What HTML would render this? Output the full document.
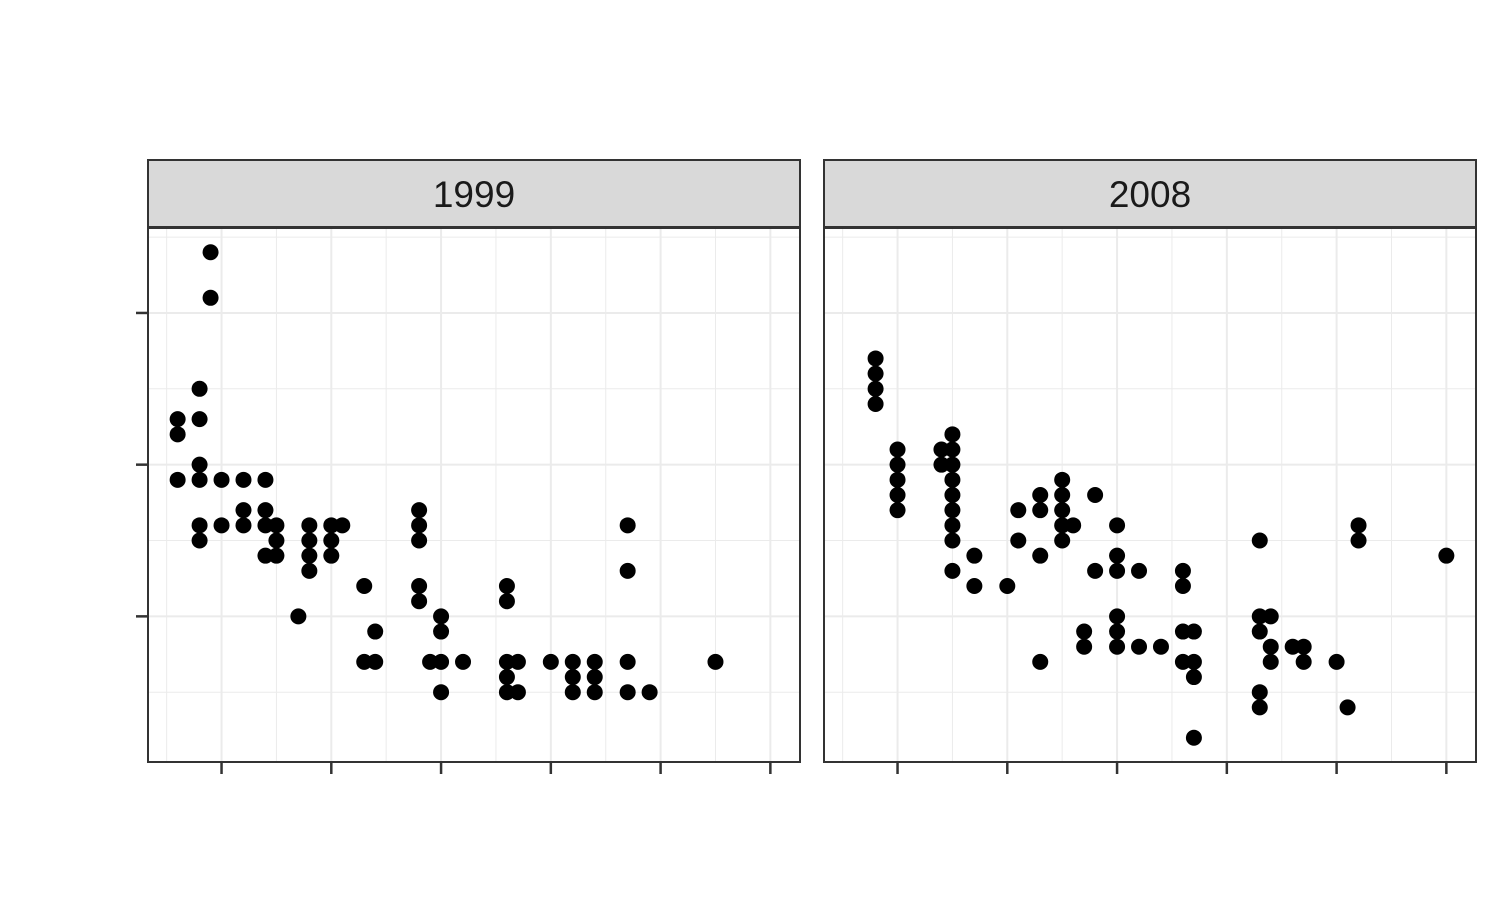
<!DOCTYPE html>
<html><head><meta charset="utf-8"><style>
body{margin:0;background:#fff;}
svg{display:block;font-family:"Liberation Sans",sans-serif;}
</style></head><body>
<svg id="chart" width="1500" height="900"></svg>
<script>
const facetLabels = ["1999", "2008"];
const displ1999 = [1.9,1.9,1.8,1.6,1.8,1.6,1.6,1.8,1.8,2.0,2.2,2.4,2.2,2.4,1.8,2.0,2.2,2.4,2.5,1.8,2.5,2.4,2.5,2.8,2.8,2.8,2.8,3.0,3.1,3.0,3.0,2.7,3.3,3.4,3.3,3.4,3.8,3.8,3.8,3.8,3.8,4.0,4.0,3.9,4.0,4.2,4.0,4.6,4.6,4.6,4.7,4.6,4.6,4.7,5.0,5.2,5.2,5.2,5.4,5.4,5.4,5.7,5.7,5.7,5.7,5.9,6.5];
const hwy1999 = [44,41,35,33,33,32,29,30,29,29,29,29,27,27,26,26,26,26,26,25,25,24,24,26,25,24,23,26,26,25,24,20,22,19,17,17,27,26,25,22,21,20,19,17,17,17,15,22,21,17,17,16,15,15,17,17,16,15,17,16,15,26,23,17,15,15,17];
const displ2008 = [1.8,1.8,1.8,1.8,2.0,2.0,2.0,2.0,2.0,2.4,2.5,2.5,2.4,2.5,2.5,2.5,2.5,2.5,2.5,2.5,2.7,2.7,3.0,3.1,3.1,3.3,3.3,3.3,3.3,3.5,3.5,3.5,3.5,3.5,3.6,3.7,3.7,3.8,3.8,4.0,4.0,4.0,4.0,4.0,4.0,4.2,4.2,4.4,4.6,4.6,4.6,4.6,4.7,4.7,4.7,4.7,5.3,5.3,5.3,5.3,5.3,5.4,5.4,5.4,5.6,5.7,5.7,6.0,6.1,6.2,6.2,7.0];
const hwy2008 = [37,36,35,34,31,30,29,28,27,31,31,32,30,30,29,28,27,26,25,23,24,22,22,27,25,28,27,24,17,29,28,27,26,25,26,19,18,28,23,26,24,23,20,19,18,23,18,18,23,22,19,17,19,17,16,12,25,20,19,15,14,20,18,17,18,18,17,17,14,26,25,24];
const xTicks = [2,3,4,5,6,7];
const xMinor = [1.5,2.5,3.5,4.5,5.5,6.5];
const yTicks = [20,30,40];
const yMinor = [15,25,35,45];

const NS = "http://www.w3.org/2000/svg";
const svgEl = document.getElementById("chart");
function mk(tag, attrs, parent){const e=document.createElementNS(NS,tag);for(const k in attrs)e.setAttribute(k,attrs[k]);(parent||svgEl).appendChild(e);return e;}
const panelW = 652, plotTop = 228, plotBottom = 762;
const xMin = 1.33, xMax = 7.27, yMin = 10.4, yMax = 45.6;
const panelsX = [148, 824];
const data = [[displ1999,hwy1999],[displ2008,hwy2008]];
function sy(v){return plotBottom - (v - yMin) / (yMax - yMin) * (plotBottom - plotTop);}
panelsX.forEach((px, pi) => {
  const sx = v => px + (v - xMin) / (xMax - xMin) * panelW;
  const g = mk("g", {});
  
  
  mk("rect", {x:px, y:plotTop, width:panelW, height:plotBottom-plotTop, fill:"#fff"}, g);
  xMinor.forEach(v => mk("line",{x1:sx(v),x2:sx(v),y1:plotTop,y2:plotBottom,stroke:"#ebebeb","stroke-width":1}, g));
  yMinor.forEach(v => mk("line",{x1:px,x2:px+panelW,y1:sy(v),y2:sy(v),stroke:"#ebebeb","stroke-width":1}, g));
  xTicks.forEach(v => mk("line",{x1:sx(v),x2:sx(v),y1:plotTop,y2:plotBottom,stroke:"#ebebeb","stroke-width":2}, g));
  yTicks.forEach(v => mk("line",{x1:px,x2:px+panelW,y1:sy(v),y2:sy(v),stroke:"#ebebeb","stroke-width":2}, g));
  const xs = data[pi][0], ys = data[pi][1];
  xs.forEach((d, i) => {
    const c = mk("circle",{cx:sx(d), cy:sy(ys[i]), r:8, fill:"#000"}, g);
    
    
  });
  mk("rect",{x:px, y:plotTop, width:panelW, height:plotBottom-plotTop, fill:"none", stroke:"#333", "stroke-width":2}, g);
  const strip = mk("rect",{x:px, y:160, width:panelW, height:67, fill:"#d9d9d9", stroke:"#333", "stroke-width":2}, g);
  
  
  const t = mk("text",{x:px+panelW/2, y:207, "text-anchor":"middle", "font-size":37, fill:"#1a1a1a"}, g);
  t.textContent = facetLabels[pi];
  
  
  xTicks.forEach(v => {
    const tk = mk("line",{x1:sx(v),x2:sx(v),y1:plotBottom,y2:plotBottom+12,stroke:"#333","stroke-width":2.5});
    
    
  });
});
yTicks.forEach(v => {
  const tk = mk("line",{x1:136,x2:148,y1:sy(v),y2:sy(v),stroke:"#333","stroke-width":2.5});
  
  
});
</script>
</body></html>
